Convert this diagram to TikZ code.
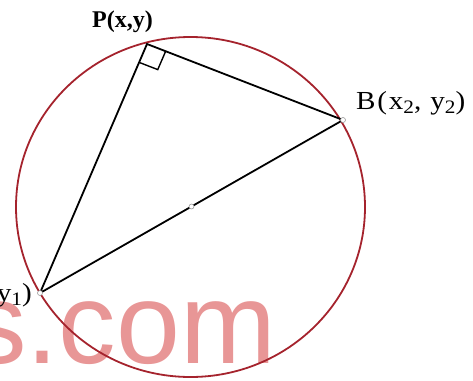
\documentclass[tikz,border=0pt]{standalone}
\usepackage{fontspec}
\setmainfont{Liberation Serif}
\newfontfamily\wmfont{Liberation Sans}
\newfontfamily\lblfont[LetterSpace=6]{Liberation Serif}
\usetikzlibrary{calc}
\definecolor{circred}{RGB}{165,35,45}
\definecolor{wmpink}{RGB}{232,150,150}
\newcommand{\lowsub}[1]{\raisebox{-4pt}{\lblfont\fontsize{19}{19}\selectfont #1}}
\newcommand{\widelbl}[1]{\scalebox{1.12}[1]{#1}}
\begin{document}
\begin{tikzpicture}[x=1pt,y=-1pt,
  seg/.style={line width=1.8pt, black},
  dotmark/.style={circle, draw=gray!80, fill=white, inner sep=0pt, minimum size=5pt, line width=0.6pt},
  lbl/.style={inner sep=0pt, font=\lblfont\fontsize{26}{28}\selectfont}]
\useasboundingbox (0,0) rectangle (473,380);
\node[inner sep=0pt, anchor=base west, text=wmpink, font=\wmfont\fontsize{115}{115}\selectfont] (wm) at (-31,363) {s.com};
\coordinate (O) at (190.5,207);
\draw[circred, line width=1.8pt] (O) ellipse [x radius=174.5, y radius=170];
\coordinate (P) at (147,44);
\coordinate (B) at (343,120);
\coordinate (A) at (40,293);
\draw[seg] (A) -- (P) -- (B) -- (A);
\coordinate (ra1) at ($(P)!20pt!(A)$);
\coordinate (ra2) at ($(P)!20pt!(B)$);
\draw[line width=1.4pt] (ra1) -- ($(ra1)+(ra2)-(P)$) -- (ra2);
\node[dotmark] (mA) at (A) {};
\node[dotmark] (mB) at (B) {};
\node[dotmark] (mM) at ($(A)!0.5!(B)$) {};
\node[inner sep=0pt, anchor=base west, font=\fontsize{24}{28}\selectfont\bfseries] (lP) at (92,27) {P(x,y)};
\node[lbl, anchor=base west] (lB) at (356,109) {\widelbl{B(x\lowsub{2}, y\lowsub{2})}};
\node[lbl, anchor=base east] (lA) at (32,301) {\widelbl{y\lowsub{1})}};
\end{tikzpicture}
\end{document}
